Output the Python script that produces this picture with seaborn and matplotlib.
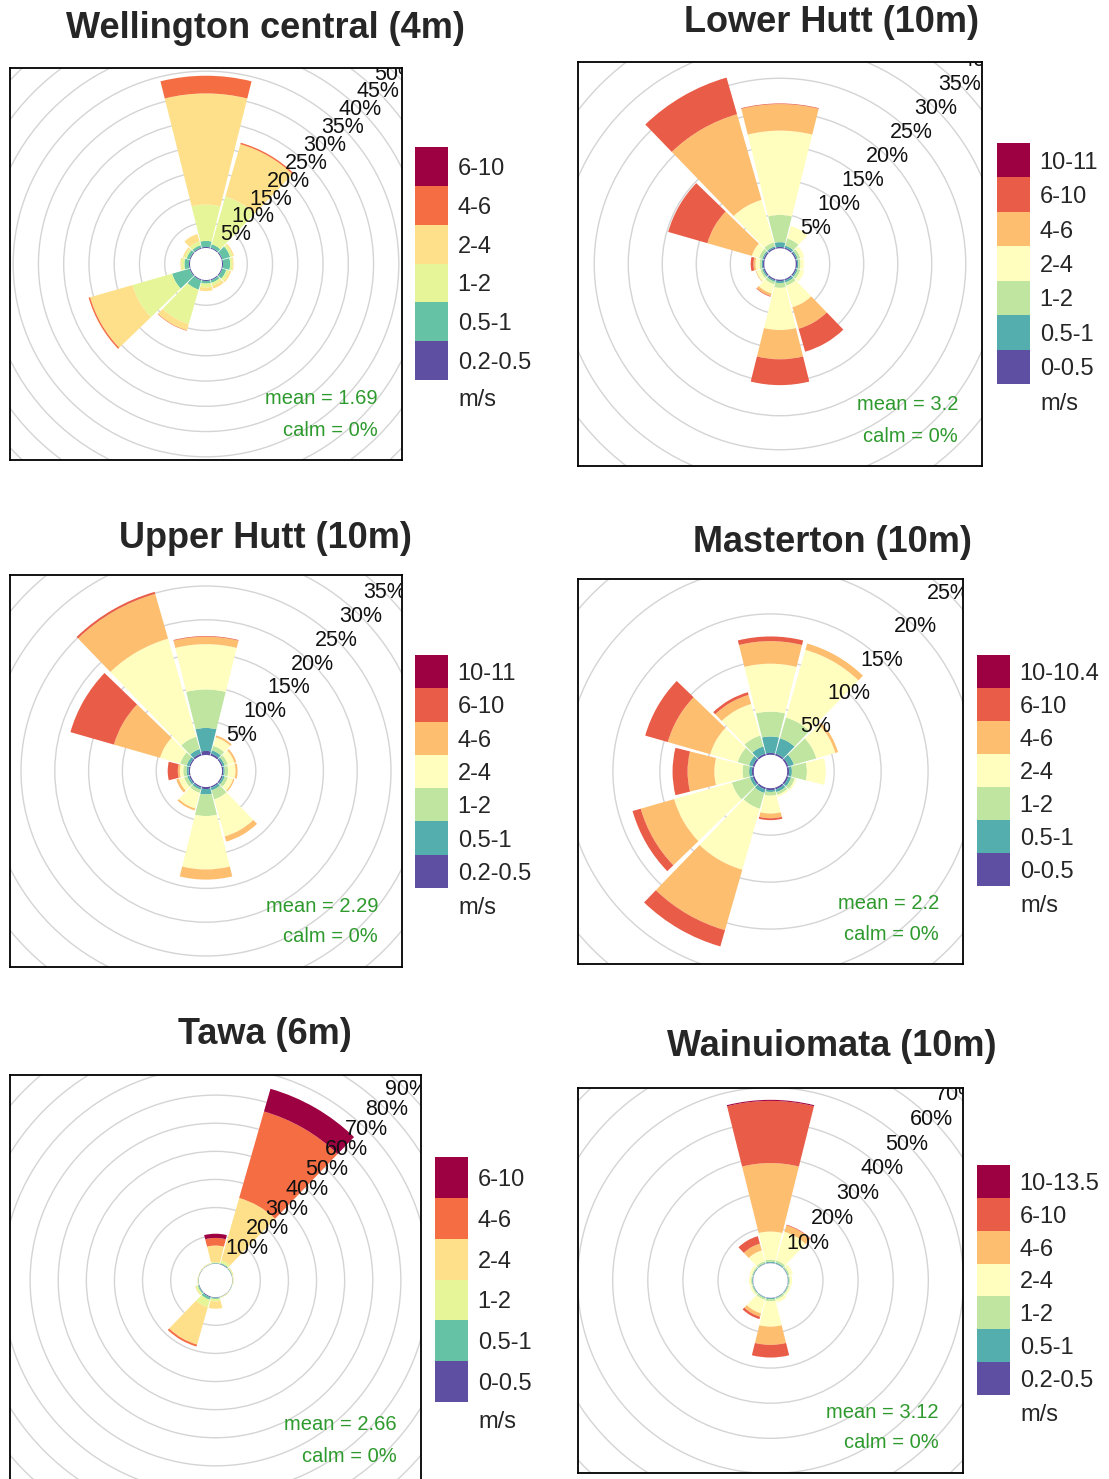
import numpy as np
import matplotlib
matplotlib.use("Agg")
import matplotlib.pyplot as plt
from matplotlib.patches import Wedge, Circle
from matplotlib.colors import ListedColormap, BoundaryNorm
from matplotlib.cm import ScalarMappable
import seaborn as sns

# wind direction sectors (degrees from north), 30 degree bins
directions = [0, 30, 60, 90, 120, 150, 180, 210, 240, 270, 300, 330]

# frequency (%) per direction (rows) and speed bin (columns)
wellington_bins = ["0.2-0.5", "0.5-1", "1-2", "2-4", "4-6", "6-10"]
wellington_freq = [
    [0.2, 1.2, 7.2, 22.0, 3.5, 0.0],
    [0.2, 0.7, 9.8, 10.8, 0.3, 0.0],
    [0.2, 1.6, 0.5, 0.3, 0.0, 0.0],
    [0.2, 1.4, 0.5, 0.2, 0.0, 0.0],
    [0.2, 0.8, 0.6, 0.4, 0.0, 0.0],
    [0.2, 0.5, 0.6, 0.6, 0.0, 0.0],
    [0.2, 0.5, 0.8, 0.7, 0.0, 0.0],
    [0.2, 1.9, 7.1, 1.3, 0.1, 0.0],
    [0.2, 3.6, 8.2, 8.7, 0.3, 0.0],
    [0.2, 0.9, 0.6, 0.2, 0.0, 0.0],
    [0.2, 0.6, 0.5, 0.3, 0.0, 0.0],
    [0.2, 0.5, 0.8, 1.5, 0.0, 0.0],
]
wellington_mean = 1.69

lower_hutt_bins = ["0-0.5", "0.5-1", "1-2", "2-4", "4-6", "6-10", "10-11"]
lower_hutt_freq = [
    [0.2, 0.7, 4.0, 12.4, 3.9, 0.1, 0.0],
    [0.2, 0.3, 1.1, 1.9, 0.0, 0.0, 0.0],
    [0.2, 0.2, 0.4, 0.6, 0.0, 0.0, 0.0],
    [0.2, 0.2, 0.3, 0.5, 0.0, 0.0, 0.0],
    [0.2, 0.2, 0.4, 0.6, 0.0, 0.0, 0.0],
    [0.2, 0.3, 0.5, 3.3, 3.3, 3.5, 0.0],
    [0.2, 0.3, 0.7, 6.2, 4.3, 3.8, 0.0],
    [0.2, 0.2, 0.4, 1.4, 0.4, 0.1, 0.0],
    [0.2, 0.2, 0.3, 0.6, 0.1, 0.0, 0.0],
    [0.2, 0.2, 0.3, 0.6, 0.3, 0.4, 0.0],
    [0.2, 0.2, 0.5, 1.1, 6.8, 6.0, 0.0],
    [0.2, 0.2, 0.6, 6.5, 13.1, 5.6, 0.0],
]
lower_hutt_mean = 3.2

upper_hutt_bins = ["0.2-0.5", "0.5-1", "1-2", "2-4", "4-6", "6-10", "10-11"]
upper_hutt_freq = [
    [0.6, 3.4, 5.7, 6.7, 1.1, 0.1, 0.0],
    [0.3, 0.5, 0.7, 1.3, 0.3, 0.0, 0.0],
    [0.2, 0.3, 0.5, 1.0, 0.3, 0.0, 0.0],
    [0.2, 0.2, 0.5, 1.1, 0.3, 0.0, 0.0],
    [0.2, 0.3, 0.5, 0.8, 0.2, 0.0, 0.0],
    [0.2, 0.4, 1.4, 5.7, 0.8, 0.0, 0.0],
    [0.3, 0.8, 3.2, 7.9, 1.5, 0.0, 0.0],
    [0.2, 0.3, 0.5, 2.4, 0.3, 0.0, 0.0],
    [0.2, 0.3, 0.5, 0.8, 0.4, 0.0, 0.0],
    [0.2, 0.3, 0.5, 0.5, 0.3, 1.5, 0.0],
    [0.2, 0.4, 1.0, 3.1, 7.1, 6.7, 0.0],
    [0.3, 0.7, 1.9, 15.1, 6.9, 0.3, 0.0],
]
upper_hutt_mean = 2.29

masterton_bins = ["0-0.5", "0.5-1", "1-2", "2-4", "4-6", "6-10", "10-10.4"]
masterton_freq = [
    [0.2, 1.75, 2.65, 5.1, 2.4, 0.5, 0.0],
    [0.2, 1.7, 2.3, 7.5, 0.7, 0.0, 0.0],
    [0.2, 0.6, 2.5, 2.1, 0.3, 0.0, 0.0],
    [0.2, 0.3, 1.6, 2.0, 0.0, 0.0, 0.0],
    [0.2, 0.3, 0.4, 0.2, 0.0, 0.0, 0.0],
    [0.2, 0.3, 0.3, 0.2, 0.0, 0.0, 0.0],
    [0.2, 0.2, 0.4, 1.9, 0.5, 0.2, 0.0],
    [0.2, 0.4, 1.75, 6.75, 6.7, 1.8, 0.0],
    [0.2, 0.3, 2.0, 6.4, 3.7, 0.9, 0.0],
    [0.2, 0.3, 0.7, 3.0, 2.85, 1.6, 0.0],
    [0.2, 0.4, 1.25, 3.05, 4.7, 2.5, 0.0],
    [0.2, 0.8, 1.2, 3.5, 1.0, 0.3, 0.0],
]
masterton_mean = 2.2

tawa_bins = ["0-0.5", "0.5-1", "1-2", "2-4", "4-6", "6-10"]
tawa_freq = [
    [0.1, 0.2, 0.3, 5.9, 2.7, 1.5],
    [0.2, 0.3, 1.0, 23.1, 32.0, 8.4],
    [0.1, 0.2, 0.3, 0.2, 0.0, 0.0],
    [0.1, 0.1, 0.2, 0.1, 0.0, 0.0],
    [0.1, 0.1, 0.1, 0.0, 0.0, 0.0],
    [0.1, 0.1, 0.2, 0.1, 0.0, 0.0],
    [0.2, 0.4, 0.9, 2.6, 0.0, 0.0],
    [0.3, 0.9, 2.8, 13.8, 0.7, 0.0],
    [0.2, 0.4, 0.8, 0.2, 0.0, 0.0],
    [0.1, 0.1, 0.2, 0.1, 0.0, 0.0],
    [0.1, 0.1, 0.1, 0.1, 0.0, 0.0],
    [0.1, 0.1, 0.2, 0.1, 0.0, 0.0],
]
tawa_mean = 2.66

wainuiomata_bins = ["0.2-0.5", "0.5-1", "1-2", "2-4", "4-6", "6-10", "10-13.5"]
wainuiomata_freq = [
    [0.1, 0.3, 0.6, 8.0, 19.5, 17.7, 0.3],
    [0.1, 0.3, 0.6, 8.5, 1.9, 0.2, 0.0],
    [0.1, 0.2, 0.4, 1.0, 0.0, 0.0, 0.0],
    [0.1, 0.2, 0.3, 0.6, 0.0, 0.0, 0.0],
    [0.1, 0.2, 0.3, 0.5, 0.0, 0.0, 0.0],
    [0.1, 0.2, 0.4, 0.9, 0.0, 0.0, 0.0],
    [0.1, 0.3, 0.6, 7.2, 5.2, 3.6, 0.0],
    [0.1, 0.2, 0.5, 4.0, 1.0, 0.7, 0.0],
    [0.1, 0.2, 0.3, 0.5, 0.0, 0.0, 0.0],
    [0.1, 0.2, 0.3, 0.6, 0.0, 0.0, 0.0],
    [0.1, 0.2, 0.3, 0.7, 0.0, 0.0, 0.0],
    [0.1, 0.2, 0.5, 3.2, 2.0, 2.2, 0.0],
]
wainuiomata_mean = 3.12

# layout in pixels of the reference image
W, H = 1109, 1479
panels = [
    dict(title="Wellington central (4m)", bins=wellington_bins, freq=wellington_freq,
         mean=wellington_mean, frame=(10, 68, 402, 460), hole=3.17, lim=38.8, step=5,
         title_xy=(265, 29), key=(415, 147, 448, 380)),
    dict(title="Lower Hutt (10m)", bins=lower_hutt_bins, freq=lower_hutt_freq,
         mean=lower_hutt_mean, frame=(578, 62, 982, 466), hole=2.31, lim=29.7, step=5,
         title_xy=(832, 22), key=(997, 143, 1030, 384)),
    dict(title="Upper Hutt (10m)", bins=upper_hutt_bins, freq=upper_hutt_freq,
         mean=upper_hutt_mean, frame=(10, 575, 402, 967), hole=2.37, lim=29.0, step=5,
         title_xy=(265, 538), key=(415, 655, 448, 888)),
    dict(title="Masterton (10m)", bins=masterton_bins, freq=masterton_freq,
         mean=masterton_mean, frame=(578, 579, 963, 964), hole=1.78, lim=20.5, step=5,
         title_xy=(832, 542), key=(977, 655, 1010, 886)),
    dict(title="Tawa (6m)", bins=tawa_bins, freq=tawa_freq,
         mean=tawa_mean, frame=(10, 1075, 421, 1486), hole=5.94, lim=73.1, step=10,
         title_xy=(265, 1034), key=(435, 1157, 468, 1402)),
    dict(title="Wainuiomata (10m)", bins=wainuiomata_bins, freq=wainuiomata_freq,
         mean=wainuiomata_mean, frame=(578, 1088, 963, 1473), hole=4.93, lim=54.8, step=10,
         title_xy=(832, 1047), key=(977, 1165, 1010, 1395)),
]

sns.set_theme(style="white")
plt.rcParams["font.family"] = ["Liberation Sans", "DejaVu Sans"]

spectral = sns.color_palette("Spectral_r", as_cmap=True)
GREEN = "#2e9a2e"
HALF = 14  # half width of a sector in degrees


def px_box(left, top, right, bottom):
    return [left / W, 1 - bottom / H, (right - left) / W, (bottom - top) / H]


def draw_rose(fig, p):
    ax = fig.add_axes(px_box(*p["frame"]))
    lim, hole, step = p["lim"], p["hole"], p["step"]
    ax.set_xlim(-lim, lim)
    ax.set_ylim(-lim, lim)
    ax.set_xticks([])
    ax.set_yticks([])
    for s in ax.spines.values():
        s.set_color("black")
        s.set_linewidth(1.3)

    n = len(p["bins"])
    colors = spectral(np.linspace(0, 1, n))

    # grid circles and percentage labels along the 45 degree ray
    levels = np.arange(step, lim * 1.5, step)
    c45 = np.cos(np.pi / 4)
    for lev in levels:
        r = hole + lev
        ax.add_patch(Circle((0, 0), r, fill=False, ec="#d4d4d4", lw=1.0, zorder=1))
        if r * c45 < lim * 1.02:
            ax.text(r * c45, r * c45, f"{lev:g}%",
                    ha="center", va="center", fontsize=15.5, color="#111111",
                    zorder=5, clip_on=True)

    # stacked sectors
    freq = np.array(p["freq"])
    for d, row in zip(directions, freq):
        cum = np.concatenate([[0], np.cumsum(row)])
        ang = 90 - d
        for j in range(n):
            if row[j] <= 0:
                continue
            ax.add_patch(Wedge((0, 0), hole + cum[j + 1], ang - HALF, ang + HALF,
                               width=row[j], fc=colors[j], ec="none", zorder=2))

    ax.annotate(f"mean = {p['mean']}", xy=(1, 0), xycoords="axes fraction",
                xytext=(-24, 61), textcoords="offset pixels", ha="right", va="center",
                fontsize=14.5, color=GREEN, zorder=6)
    ax.annotate("calm = 0%", xy=(1, 0), xycoords="axes fraction",
                xytext=(-24, 30), textcoords="offset pixels", ha="right", va="center",
                fontsize=14.5, color=GREEN, zorder=6)

    # speed key
    cax = fig.add_axes(px_box(*p["key"]))
    norm = BoundaryNorm(np.arange(n + 1), n)
    cb = fig.colorbar(ScalarMappable(norm=norm, cmap=ListedColormap(colors)),
                      cax=cax, ticks=np.arange(n) + 0.5)
    cb.ax.minorticks_off()
    cb.ax.set_yticklabels(p["bins"])
    cb.ax.tick_params(which="both", length=0, pad=7, labelsize=17)
    cb.outline.set_visible(False)
    kx = p["key"][2] + 10
    ky = p["key"][3] + 20
    fig.text(kx / W, 1 - ky / H, "m/s", ha="left", va="center", fontsize=17)

    tx, ty = p["title_xy"]
    fig.text(tx / W, 1 - ty / H, p["title"], ha="center", va="center",
             fontsize=26, fontweight="bold")


fig = plt.figure(figsize=(W / 100, H / 100), dpi=100)
for p in panels:
    draw_rose(fig, p)

fig.savefig("out.png", dpi=100, facecolor="white")
